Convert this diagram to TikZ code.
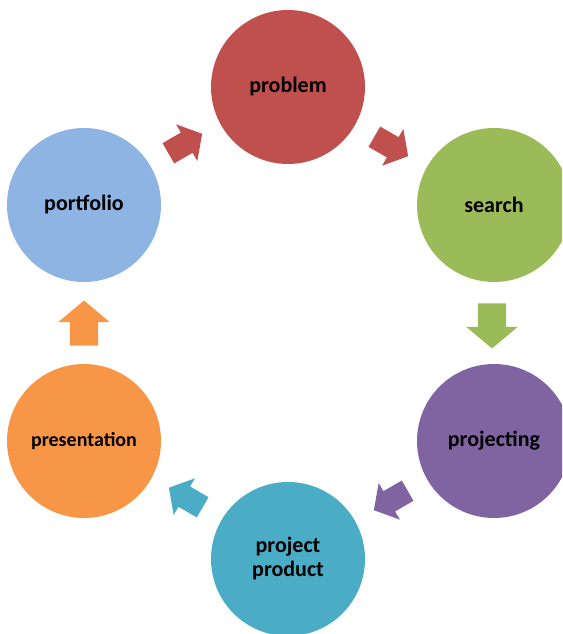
\documentclass[tikz,border=0pt]{standalone}
\usepackage{fontspec}
\setmainfont{Carlito}
\usetikzlibrary{shapes.arrows, calc}

\definecolor{probred}{HTML}{C0504D}
\definecolor{searchgreen}{HTML}{9BBB59}
\definecolor{projpurple}{HTML}{8064A2}
\definecolor{prodteal}{HTML}{4BACC6}
\definecolor{presorange}{HTML}{F79646}
\definecolor{portblue}{HTML}{8DB4E2}

\begin{document}
\begin{tikzpicture}[x=1pt, y=1pt,
  stage/.style={circle, minimum size=154pt, inner sep=0pt, align=center,
    font=\fontsize{22}{24}\selectfont\bfseries},
  flow/.style={single arrow, inner xsep=0pt, inner ysep=14pt, minimum height=45pt,
    single arrow head extend=11.5pt, single arrow tip angle=100},
  sideflow/.style={flow, inner ysep=11.5pt, minimum height=39pt,
    single arrow head extend=9.5pt}]
  \useasboundingbox (0,0) rectangle (562,634);
  \clip (0,0) rectangle (562,634);

  % Stages
  \node[stage, fill=probred] (problem) at (288,547) {problem};
  \node[stage, fill=searchgreen] (search) at (494,429) {search};
  \node[stage, fill=projpurple] (projecting) at (494,193) {projecting};
  \node[stage, fill=prodteal] (product) at (288,75) {project\\product};
  \node[stage, fill=presorange, font=\fontsize{20}{24}\selectfont\bfseries] (presentation) at (84,193) {presentation};
  \node[stage, fill=portblue] (portfolio) at (84,429) {portfolio};

  % Arrows between stages
  \node[sideflow, fill=probred, rotate=30] (a1) at ($(portfolio)!0.5!(problem)+(-5,0)$) {};
  \node[sideflow, fill=probred, rotate=-30] (a2) at ($(problem)!0.5!(search)+(-4,2)$) {};
  \node[flow, fill=searchgreen, rotate=-90] (a3) at ($(search)!0.5!(projecting)+(-2,3)$) {};
  \node[sideflow, fill=projpurple, rotate=210] (a4) at ($(projecting)!0.5!(product)+(4,2)$) {};
  \node[sideflow, fill=prodteal, rotate=150] (a5) at ($(product)!0.5!(presentation)+(4,0)$) {};
  \node[flow, fill=presorange, rotate=90] (a6) at ($(presentation)!0.5!(portfolio)+(0,-6)$) {};
\end{tikzpicture}
\end{document}
